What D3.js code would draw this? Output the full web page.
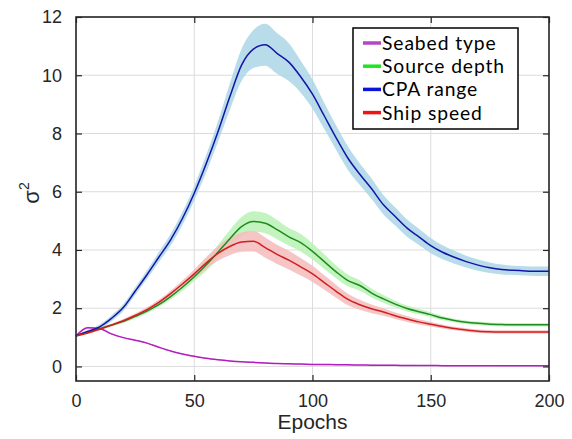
<!DOCTYPE html>
<html lang="en">
<head>
    <meta charset="UTF-8">
    <title>Variance per epoch</title>
    <style>
        body { margin: 0; background: #fff; }
        text { font-family: "Liberation Sans", Arial, sans-serif; fill: #262626; }
        .legend text { font-family: Lato, "Open Sans", sans-serif; fill: #000; }
    </style>
</head>
<body>
<svg height="439" width="572"></svg>

<script src="https://d3js.org/d3.v7.min.js"></script>
<script>

    // epochs sampled every 5
    var epochs = [0,5,10,15,20,25,30,35,40,45,50,55,60,65,70,75,80,85,90,95,100,
                  105,110,115,120,125,130,135,140,145,150,155,160,165,170,175,180,185,190,195,200];

    var seabedMean = [1.05,1.33,1.3,1.12,0.99,0.9,0.8,0.66,0.53,0.43,0.35,0.28,0.23,0.19,0.16,0.14,0.12,0.1,0.09,0.08,0.07,
                      0.065,0.06,0.055,0.05,0.045,0.04,0.038,0.035,0.032,0.03,0.028,0.026,0.025,0.024,0.023,0.022,0.021,0.02,0.02,0.02];
    var seabedSpread = [0.02,0.03,0.03,0.03,0.02,0.02,0.02,0.02,0.02,0.02,0.02,0.02,0.02,0.02,0.02,0.02,0.02,0.02,0.02,0.02,0.02,
                        0.02,0.02,0.02,0.02,0.02,0.02,0.02,0.02,0.02,0.02,0.02,0.02,0.02,0.02,0.02,0.02,0.02,0.02,0.02,0.02];

    var depthMean = [1.05,1.18,1.3,1.42,1.55,1.72,1.9,2.12,2.4,2.72,3.08,3.48,3.92,4.38,4.8,4.98,4.92,4.7,4.45,4.25,3.95,
                     3.6,3.25,2.95,2.78,2.52,2.32,2.14,1.99,1.88,1.78,1.66,1.58,1.52,1.48,1.45,1.44,1.43,1.43,1.43,1.43];
    var depthSpread = [0.03,0.04,0.05,0.05,0.06,0.07,0.08,0.08,0.1,0.12,0.15,0.2,0.25,0.3,0.33,0.35,0.35,0.33,0.3,0.3,0.28,
                       0.25,0.22,0.2,0.18,0.15,0.13,0.11,0.1,0.09,0.08,0.07,0.06,0.06,0.06,0.06,0.06,0.06,0.06,0.06,0.06];

    var cpaMean = [1.05,1.2,1.36,1.65,2.02,2.58,3.15,3.75,4.35,5.08,5.95,6.95,8.05,9.25,10.35,10.9,11.05,10.75,10.45,9.95,9.35,
                   8.6,7.85,7.15,6.6,6.1,5.55,5.15,4.75,4.45,4.15,3.92,3.75,3.6,3.48,3.39,3.33,3.3,3.28,3.27,3.27];
    var cpaSpread = [0.05,0.06,0.08,0.1,0.12,0.13,0.15,0.17,0.2,0.22,0.25,0.3,0.35,0.45,0.55,0.65,0.72,0.7,0.65,0.55,0.5,
                     0.45,0.42,0.4,0.37,0.35,0.33,0.31,0.3,0.28,0.26,0.24,0.22,0.2,0.19,0.18,0.17,0.16,0.16,0.16,0.16];

    var speedMean = [1.05,1.15,1.28,1.42,1.57,1.75,1.95,2.2,2.5,2.83,3.18,3.55,3.88,4.12,4.27,4.3,4.08,3.85,3.65,3.42,3.18,
                     2.88,2.58,2.3,2.12,1.98,1.87,1.74,1.63,1.53,1.45,1.37,1.3,1.25,1.21,1.19,1.18,1.18,1.18,1.18,1.18];
    var speedSpread = [0.03,0.04,0.05,0.05,0.06,0.07,0.08,0.09,0.1,0.12,0.15,0.2,0.25,0.3,0.33,0.35,0.35,0.33,0.32,0.3,0.28,
                       0.25,0.22,0.2,0.17,0.15,0.13,0.11,0.1,0.09,0.08,0.07,0.06,0.06,0.06,0.06,0.06,0.06,0.06,0.06,0.06];

    var seriesNames = ["Seabed type", "Source depth", "CPA range", "Ship speed"];
    var xTicks = [0, 50, 100, 150, 200];
    var yTicks = [0, 2, 4, 6, 8, 10, 12];

    var series = [
        {name: seriesNames[0], mean: seabedMean, spread: seabedSpread, line: "#b41cbe", band: "#e9c3ee", key: "#b446c8"},
        {name: seriesNames[1], mean: depthMean, spread: depthSpread, line: "#1f8c1f", band: "#b9f2b4", key: "#1ee61e"},
        {name: seriesNames[2], mean: cpaMean, spread: cpaSpread, line: "#1414aa", band: "#abd6e6", key: "#0a14dc"},
        {name: seriesNames[3], mean: speedMean, spread: speedSpread, line: "#d21e1e", band: "#f5bcbc", key: "#f01414"}
    ];

    var svg = d3.select("svg"),
        margin = {top: 17, right: 23, bottom: 58, left: 76};

    var width = +svg.attr("width") - margin.left - margin.right;
    var height = +svg.attr("height") - margin.top - margin.bottom;

    var g = svg.append("g")
        .attr("transform", "translate(" + margin.left + "," + margin.top + ")");

    var x = d3.scaleLinear().domain([0, 200]).range([0, width]);
    var y = d3.scaleLinear().domain([-0.5, 12]).range([height, 0]);

    // grid
    g.selectAll(".vgrid").data(xTicks).enter().append("line")
        .attr("x1", function(d) { return x(d); }).attr("x2", function(d) { return x(d); })
        .attr("y1", 0).attr("y2", height)
        .attr("stroke", "#dcdcdc").attr("stroke-width", 1);
    g.selectAll(".hgrid").data(yTicks).enter().append("line")
        .attr("y1", function(d) { return y(d); }).attr("y2", function(d) { return y(d); })
        .attr("x1", 0).attr("x2", width)
        .attr("stroke", "#dcdcdc").attr("stroke-width", 1);

    var band = d3.area()
        .curve(d3.curveMonotoneX)
        .x(function(d, i) { return x(epochs[i]); })
        .y0(function(d, i) { return y(d.m - d.s); })
        .y1(function(d, i) { return y(d.m + d.s); });

    var line = d3.line()
        .curve(d3.curveMonotoneX)
        .x(function(d, i) { return x(epochs[i]); })
        .y(function(d) { return y(d.m); });

    series.forEach(function(s) {
        var pts = s.mean.map(function(m, i) { return {m: m, s: s.spread[i]}; });
        g.append("path").datum(pts)
            .attr("d", band)
            .attr("fill", s.band)
            .attr("fill-opacity", 0.85);
    });

    series.forEach(function(s) {
        var pts = s.mean.map(function(m, i) { return {m: m, s: s.spread[i]}; });
        g.append("path").datum(pts)
            .attr("d", line)
            .attr("fill", "none")
            .attr("stroke", s.line)
            .attr("stroke-width", 1.5);
    });

    // axes, ticks pointing inwards
    g.append("g").attr("transform", "translate(0," + height + ")")
        .call(d3.axisBottom(x).tickValues(xTicks).tickSizeInner(-6).tickSizeOuter(0).tickPadding(13));
    g.append("g")
        .call(d3.axisTop(x).tickValues(xTicks).tickSizeInner(-6).tickSizeOuter(0).tickFormat(""));
    g.append("g")
        .call(d3.axisLeft(y).tickValues(yTicks).tickSizeInner(-6).tickSizeOuter(0).tickPadding(14));
    g.append("g").attr("transform", "translate(" + width + ",0)")
        .call(d3.axisRight(y).tickValues(yTicks).tickSizeInner(-6).tickSizeOuter(0).tickFormat(""));

    g.selectAll(".domain").remove();
    g.selectAll(".tick line").attr("stroke", "#262626").attr("stroke-width", 1.2);
    g.selectAll(".tick text").attr("font-size", 18).attr("fill", "#262626");

    g.append("rect")
        .attr("width", width).attr("height", height)
        .attr("fill", "none").attr("stroke", "#262626").attr("stroke-width", 1.6);

    // axis labels
    svg.append("text")
        .attr("x", margin.left + width / 2).attr("y", 429)
        .attr("text-anchor", "middle").attr("font-size", 21)
        .text("Epochs");

    var ylab = svg.append("text")
        .attr("transform", "translate(39," + (margin.top + height / 2 - 6) + ") rotate(-90)")
        .attr("text-anchor", "middle").attr("font-size", 22);
    ylab.append("tspan").text("σ");
    ylab.append("tspan").attr("dy", -10).attr("font-size", 14).text("2");

    // legend
    var legend = svg.append("g").attr("class", "legend").attr("transform", "translate(353,28)");
    legend.append("rect")
        .attr("width", 165).attr("height", 101)
        .attr("fill", "#fff").attr("stroke", "#000").attr("stroke-width", 1.5);

    var rows = legend.selectAll(".row").data(series).enter().append("g")
        .attr("transform", function(d, i) { return "translate(0," + (22 + i * 23.2) + ")"; });
    rows.append("line")
        .attr("x1", 10).attr("x2", 28).attr("y1", -7).attr("y2", -7)
        .attr("stroke", function(d) { return d.key; }).attr("stroke-width", 3.5);
    rows.append("text")
        .attr("x", 29).attr("y", 0)
        .attr("font-size", 19.3)
        .attr("letter-spacing", 0.9)
        .text(function(d) { return d.name; });

</script>
</body>
</html>
